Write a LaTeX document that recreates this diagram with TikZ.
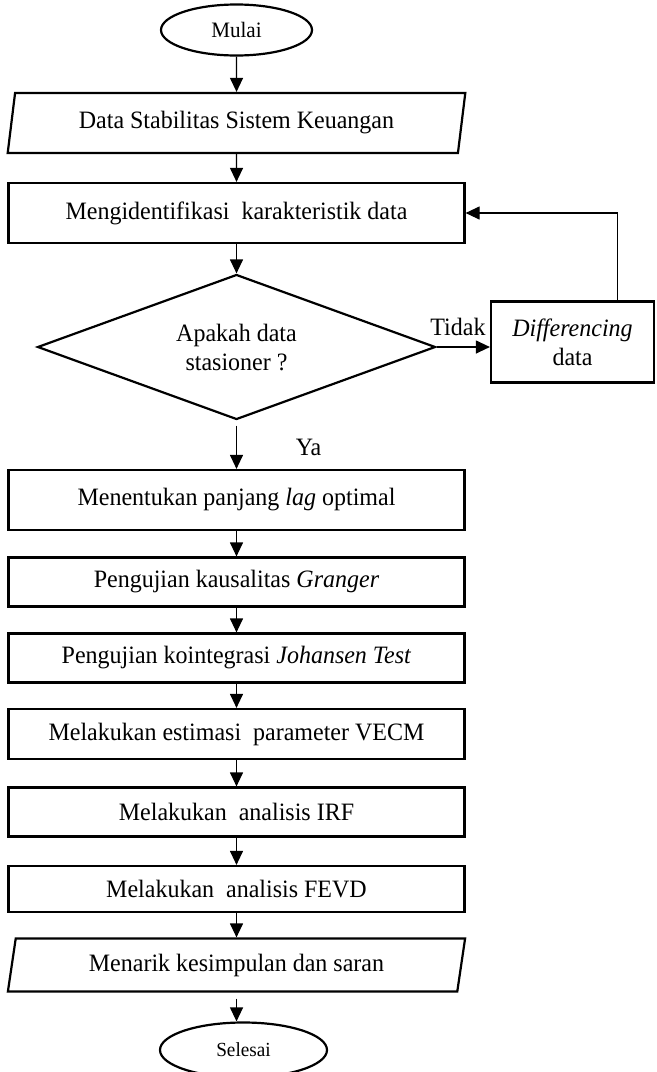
\documentclass[tikz,border=0pt]{standalone}
\usepackage{fontspec}
\setmainfont{Liberation Serif}[FakeStretch=0.96]
\usetikzlibrary{shapes.geometric,positioning,arrows.meta}

\tikzset{
  txt/.style={font=\fontsize{12.5}{14.5}\selectfont},
  proc/.style={txt, draw, line width=1.1pt, rectangle, minimum width=228pt, inner sep=0pt},
  inout/.style={txt, draw, line width=1.1pt, trapezium, trapezium left angle=77,
    trapezium right angle=103, trapezium stretches=true, minimum width=229pt, inner sep=0pt},
  term/.style={draw, line width=1.1pt, ellipse, inner sep=0pt},
  decide/.style={txt, draw, line width=1.1pt, diamond, aspect=2.75, align=center,
    minimum width=199pt, minimum height=72.5pt, inner sep=0pt},
  flow/.style={line width=0.6pt, -{Triangle[length=7pt,width=6.5pt]}}
}

\begin{document}
\begin{tikzpicture}[node distance=38pt,on grid,auto]
  \useasboundingbox (0,0) rectangle (328.5pt,-536pt);
  \path
  node[term, minimum width=75.5pt, minimum height=25.5pt, font=\fontsize{11}{13}\selectfont]
    (mulai) at (118.25pt,-15pt) {Mulai}
  node[inout, minimum height=30pt] (data) [below=46.5pt of mulai] {Data Stabilitas Sistem Keuangan}
  node[proc, minimum height=30pt] (ident) [below=45pt of data] {Mengidentifikasi~ karakteristik data}
  node[decide] (cek) [below=67pt of ident] {Apakah data\\stasioner ?}
  node[proc, minimum width=81.5pt, minimum height=40.5pt, align=center]
    (diff) [right=168pt of cek, yshift=2.5pt] {\textit{Differencing}\\data}
  node[proc, minimum height=30pt] (lag) [below=76.5pt of cek] {Menentukan panjang \textit{lag} optimal}
  node[proc, minimum height=24.5pt] (granger) [below=41pt of lag] {Pengujian kausalitas \textit{Granger}}
  node[proc, minimum height=24.5pt] (johansen) [below=of granger] {Pengujian kointegrasi \textit{Johansen Test}}
  node[proc, minimum height=25pt] (vecm) [below=of johansen] {Melakukan estimasi~ parameter VECM}
  node[proc, minimum height=24.5pt] (irf) [below=39pt of vecm] {Melakukan~ analisis IRF}
  node[proc, minimum height=23pt] (fevd) [below=38.5pt of irf] {Melakukan~ analisis FEVD}
  node[inout, minimum height=26.5pt] (simpul) [below=of fevd] {Menarik kesimpulan dan saran}
  node[term, minimum width=83.5pt, minimum height=27.5pt, font=\fontsize{10}{12}\selectfont]
    (selesai) [below=42.5pt of simpul, xshift=3.5pt] {Selesai}
  ;
  \path[flow]
  (mulai) edge (data)
  (data) edge (ident)
  (ident) edge (cek)
  (cek.east) edge node[txt, above=2pt, pos=0.4] {Tidak} (cek.east -| diff.west)
  ([yshift=-2.5pt]cek.south) edge node[txt, right=26pt, midway] {Ya} (lag)
  (lag) edge (granger)
  (granger) edge (johansen)
  (johansen) edge (vecm)
  (vecm) edge (irf)
  (irf) edge (fevd)
  (fevd) edge (simpul)
  ([yshift=-3pt]simpul.south) edge (simpul.south |- selesai.north)
  ;
  \draw[flow] ([xshift=22.5pt]diff.north) |- (ident.east);
\end{tikzpicture}
\end{document}
